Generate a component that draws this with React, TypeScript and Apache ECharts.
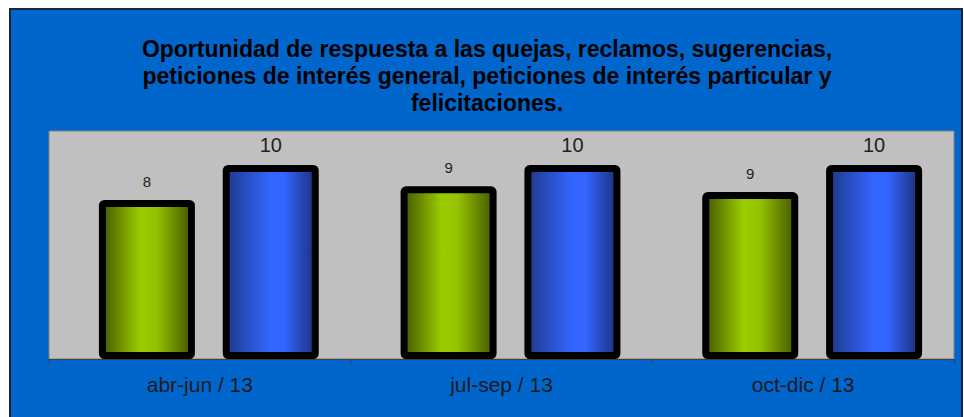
import React, { useEffect, useRef } from "react";
import * as echarts from "echarts";

const categories = ["abr-jun / 13", "jul-sep / 13", "oct-dic / 13"];
const seriesGreen = [8.2, 8.9, 8.6];
const seriesBlue = [10, 10, 10];
const titleLines = [
  "Oportunidad de respuesta a las quejas, reclamos, sugerencias,",
  "peticiones de interés general, peticiones de interés particular y",
  "felicitaciones.",
];

const FONT = "'Liberation Sans', Arial, sans-serif";
const Y_MAX = 11.75;

export default function App() {
  const ref = useRef<HTMLDivElement>(null);
  useEffect(() => {
    if (!ref.current) return;
    const chart = echarts.init(ref.current, undefined, { renderer: "svg" });
    const greenGrad = new echarts.graphic.LinearGradient(0, 0, 1, 0, [
      { offset: 0, color: "#465800" },
      { offset: 0.42, color: "#99cc00" },
      { offset: 0.6, color: "#94c400" },
      { offset: 1, color: "#465800" },
    ]);
    const blueGrad = new echarts.graphic.LinearGradient(0, 0, 1, 0, [
      { offset: 0, color: "#1e3a8c" },
      { offset: 0.5, color: "#3366ff" },
      { offset: 0.65, color: "#3366ff" },
      { offset: 1, color: "#1c2f7c" },
    ]);
    chart.setOption({
      animation: false,
      backgroundColor: "#ffffff",
      graphic: [
        {
          type: "rect",
          z: -10,
          shape: { x: 10, y: 9, width: 952, height: 420 },
          style: { fill: "#0066cc", stroke: "#1a2340", lineWidth: 2 },
        },
      ],
      title: {
        text: titleLines.join("\n"),
        left: 487,
        textAlign: "center",
        top: 35,
        padding: 0,
        textStyle: {
          fontFamily: FONT,
          fontSize: 23,
          fontWeight: "bold",
          lineHeight: 27,
          color: "#000000",
        },
      },
      grid: [
        {
          left: 49,
          right: 10,
          top: 131,
          bottom: 58,
          show: true,
          backgroundColor: "#c0c0c0",
          borderColor: "#808080",
          borderWidth: 1,
        },
        {
          left: 58,
          right: 1,
          top: 131,
          bottom: 58,
          show: false,
        },
      ],
      xAxis: [
        {
          type: "category",
          gridIndex: 0,
          data: categories,
          axisLine: { lineStyle: { color: "#404040", width: 1 } },
          axisTick: { show: true, length: 5, lineStyle: { color: "#404040" } },
          axisLabel: {
            fontFamily: FONT,
            fontSize: 21,
            color: "#1a1a1a",
            margin: 15,
          },
        },
        {
          type: "category",
          gridIndex: 1,
          data: categories,
          show: false,
        },
      ],
      yAxis: [
        {
          type: "value",
          gridIndex: 0,
          min: 0,
          max: Y_MAX,
          show: false,
          splitLine: { show: false },
        },
        {
          type: "value",
          gridIndex: 1,
          min: 0,
          max: Y_MAX,
          show: false,
          splitLine: { show: false },
        },
      ],
      series: [
        {
          name: "Serie 1",
          type: "bar",
          xAxisIndex: 1,
          yAxisIndex: 1,
          data: seriesGreen,
          barWidth: 96,
          barGap: "29%",
          itemStyle: {
            color: greenGrad,
            borderColor: "#000000",
            borderWidth: 7,
            borderRadius: 2,
          },
          label: {
            show: true,
            position: "top",
            distance: 11,
            fontFamily: FONT,
            fontSize: 15,
            color: "#222222",
            formatter: (p: any) => String(Math.round(p.value)),
          },
        },
        {
          name: "Serie 2",
          type: "bar",
          xAxisIndex: 1,
          yAxisIndex: 1,
          data: seriesBlue,
          barWidth: 96,
          barGap: "29%",
          itemStyle: {
            color: blueGrad,
            borderColor: "#000000",
            borderWidth: 7,
            borderRadius: 2,
          },
          label: {
            show: true,
            position: "top",
            distance: 10,
            fontFamily: FONT,
            fontSize: 20,
            color: "#222222",
            formatter: (p: any) => String(Math.round(p.value)),
          },
        },
      ],
    });
    return () => chart.dispose();
  }, []);
  return (
    <div
      ref={ref}
      style={{ position: "fixed", left: 0, top: 0, width: 964, height: 417 }}
    />
  );
}
